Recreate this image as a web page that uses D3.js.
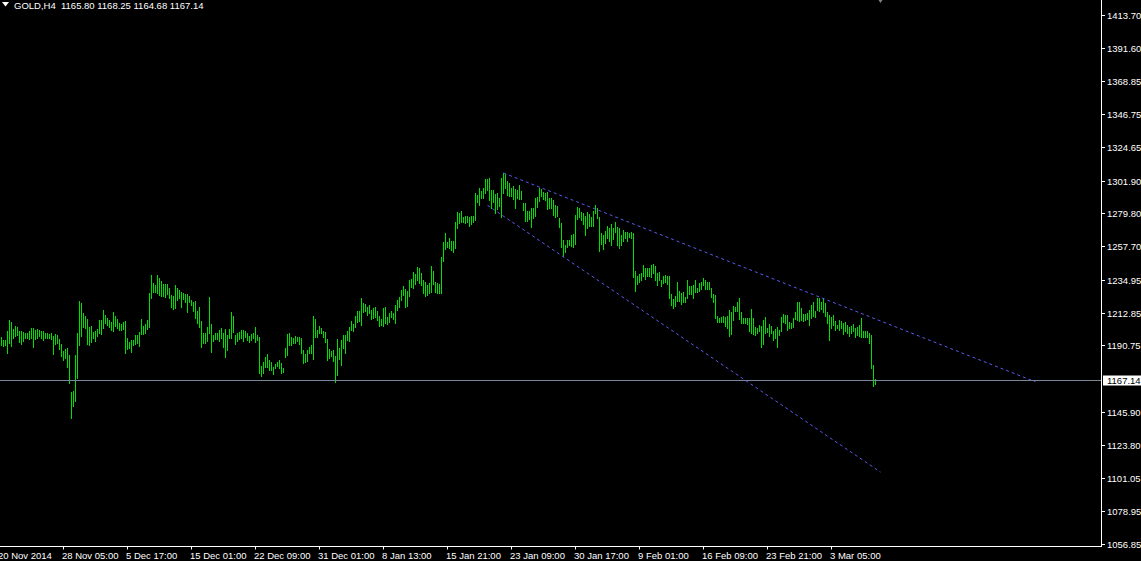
<!DOCTYPE html>
<html><head><meta charset="utf-8">
<script src="https://cdn.jsdelivr.net/npm/d3@7"></script>
<style>html,body{margin:0;padding:0;background:#000;overflow:hidden}svg{display:block}</style>
</head><body>
<script>
const symbolTitle = "GOLD,H4";
const lastOHLC = ["1165.80", "1168.25", "1164.68", "1167.14"];
const bidPrice = 1167.14;

const highs = [
1196.6,1194.4,1194.4,1200.5,1207.9,1206.8,1201.8,1203.8,1202.9,1200.5,
1200.5,1200.0,1199.3,1199.3,1200.5,1202.5,1202.3,1201.1,1201.6,1200.9,
1200.5,1200.2,1199.3,1198.9,1198.4,1198.9,1197.3,1198.4,1197.8,1195.1,
1191.7,1187.0,1188.3,1189.0,1184.3,1159.5,1160.0,1184.3,1198.9,1220.7,
1219.6,1212.6,1210.6,1208.8,1203.4,1204.1,1200.0,1200.7,1201.8,1207.9,
1207.9,1214.6,1211.3,1209.5,1207.9,1206.8,1213.3,1210.8,1208.3,1206.1,
1205.0,1206.3,1207.2,1196.0,1193.3,1194.6,1194.4,1197.8,1197.8,1200.0,
1208.6,1204.1,1205.4,1207.9,1226.3,1238.3,1232.6,1231.5,1238.3,1236.5,
1234.4,1232.2,1232.2,1232.0,1229.3,1224.8,1224.1,1231.5,1229.3,1228.1,
1227.0,1225.9,1225.4,1225.7,1224.1,1221.4,1220.3,1220.7,1214.0,1216.9,
1207.2,1199.1,1199.1,1203.2,1223.4,1205.2,1197.8,1198.9,1199.3,1201.1,
1202.2,1199.3,1201.8,1197.7,1201.8,1213.3,1210.6,1197.7,1199.3,1200.0,
1201.1,1201.1,1200.4,1198.9,1197.3,1198.4,1199.3,1202.9,1197.7,1196.6,
1176.8,1179.3,1183.1,1184.9,1180.9,1179.7,1176.4,1178.2,1179.7,1180.9,
1179.1,1175.7,1188.9,1198.4,1199.3,1196.2,1195.9,1197.1,1196.2,1196.6,
1195.9,1187.6,1184.9,1187.6,1189.9,1191.0,1210.6,1208.5,1201.1,1203.8,
1202.4,1200.6,1200.0,1195.0,1188.3,1187.2,1187.6,1183.5,1195.3,1189.2,
1194.4,1197.7,1197.7,1200.4,1203.4,1207.2,1205.1,1210.6,1213.9,1213.9,
1222.5,1219.5,1218.6,1216.4,1218.0,1214.6,1216.2,1216.4,1213.9,1210.6,
1208.3,1215.7,1216.4,1209.7,1212.8,1214.2,1212.4,1218.0,1221.4,1223.2,
1228.1,1231.0,1228.5,1227.6,1234.9,1235.3,1240.0,1238.9,1243.4,1242.7,
1239.4,1234.9,1233.7,1231.5,1232.6,1244.3,1240.9,1233.7,1232.6,1232.2,
1250.2,1260.3,1266.4,1260.8,1263.5,1261.2,1261.2,1273.8,1281.0,1279.9,
1281.5,1277.6,1278.3,1278.1,1277.6,1278.3,1278.1,1293.4,1292.3,1296.8,
1295.0,1296.8,1302.8,1302.8,1304.0,1295.6,1295.6,1292.7,1293.4,1290.0,
1303.5,1306.9,1306.2,1301.7,1300.1,1297.2,1298.6,1296.3,1295.6,1299.0,
1295.0,1287.1,1286.6,1281.7,1281.7,1283.3,1283.7,1290.5,1291.1,1297.2,
1296.3,1294.0,1293.4,1294.0,1290.0,1290.5,1288.9,1285.5,1285.1,1276.5,
1273.1,1261.9,1258.5,1261.9,1261.9,1265.3,1265.7,1278.8,1283.9,1283.3,
1281.0,1280.3,1278.1,1281.0,1279.4,1277.6,1281.7,1285.5,1283.3,1277.6,
1266.4,1265.3,1268.0,1271.3,1269.8,1272.5,1270.2,1274.3,1270.9,1269.8,
1265.3,1268.4,1267.5,1267.5,1266.8,1267.5,1266.4,1241.0,1237.8,1238.7,
1239.4,1245.0,1242.8,1243.2,1242.8,1245.0,1245.5,1244.3,1239.8,1240.1,
1234.9,1237.6,1238.3,1237.9,1237.6,1225.3,1221.9,1224.1,1233.8,1227.5,
1225.9,1226.6,1223.7,1234.9,1230.9,1230.9,1231.6,1234.9,1229.8,1232.7,
1233.8,1236.1,1234.9,1233.4,1233.8,1229.8,1225.5,1224.8,1210.6,1209.5,
1210.2,1210.6,1210.2,1210.8,1214.7,1213.6,1217.4,1216.9,1220.3,1222.6,
1213.1,1209.1,1209.5,1209.1,1209.5,1215.4,1209.5,1203.4,1202.7,1204.6,
1203.9,1207.9,1210.2,1202.7,1205.0,1203.9,1200.5,1201.9,1203.4,1201.2,
1210.2,1211.7,1211.3,1211.3,1206.4,1205.7,1209.5,1213.1,1220.3,1220.3,
1215.8,1211.7,1211.7,1212.4,1214.7,1218.1,1220.3,1214.0,1223.0,1222.6,
1220.3,1223.0,1219.6,1213.1,1211.3,1210.2,1211.3,1207.5,1204.6,1207.9,
1207.5,1205.7,1206.8,1204.6,1203.4,1204.1,1205.2,1202.3,1203.0,1204.6,
1209.5,1200.5,1200.5,1200.5,1199.4,1197.8,1177.6,1168.25
];
const lows = [
1191.0,1190.3,1191.0,1185.8,1192.1,1190.3,1195.5,1197.1,1197.8,1192.8,
1191.7,1193.7,1195.5,1195.5,1195.1,1195.5,1189.9,1195.1,1196.0,1197.3,
1195.5,1194.4,1195.5,1195.7,1195.7,1195.1,1185.2,1191.7,1192.6,1188.1,
1183.8,1180.9,1182.5,1176.4,1165.1,1141.9,1150.1,1153.4,1168.5,1191.0,
1197.3,1203.4,1202.3,1191.7,1191.0,1192.8,1195.5,1193.9,1197.3,1198.9,
1198.2,1202.3,1205.6,1204.5,1202.9,1201.1,1200.7,1203.8,1202.3,1201.4,
1201.1,1201.6,1185.8,1188.3,1189.2,1186.5,1191.0,1191.5,1192.1,1190.6,
1198.2,1198.2,1198.9,1201.6,1203.4,1223.0,1227.0,1227.0,1225.9,1224.8,
1224.3,1224.3,1223.6,1225.4,1222.5,1216.9,1215.1,1216.2,1221.2,1222.5,
1216.9,1221.8,1219.8,1213.5,1219.8,1218.0,1214.0,1209.0,1205.6,1202.9,
1189.9,1192.1,1192.1,1193.7,1198.9,1186.5,1193.7,1194.8,1194.8,1193.9,
1195.5,1189.4,1183.1,1187.6,1195.9,1195.9,1200.0,1191.7,1193.9,1194.8,
1195.5,1193.7,1196.6,1194.4,1193.2,1194.4,1195.9,1193.2,1194.4,1171.9,
1170.3,1172.3,1176.4,1176.4,1174.5,1174.1,1171.4,1175.7,1177.0,1175.7,
1172.3,1173.0,1183.1,1184.2,1191.0,1191.0,1192.1,1192.1,1193.7,1191.4,
1185.8,1178.6,1179.5,1180.4,1185.4,1185.4,1181.5,1196.6,1196.6,1198.9,
1199.3,1196.2,1193.2,1181.1,1182.4,1183.5,1180.4,1166.2,1170.7,1181.5,
1177.5,1188.7,1185.8,1194.4,1193.9,1201.1,1200.4,1203.4,1206.7,1207.2,
1204.5,1213.5,1213.9,1211.2,1212.4,1208.3,1209.0,1210.1,1207.9,1204.0,
1204.5,1203.8,1206.1,1205.1,1206.7,1209.7,1208.3,1206.1,1214.6,1216.9,
1221.4,1224.7,1216.9,1217.3,1224.1,1230.4,1229.7,1232.2,1234.9,1232.6,
1231.5,1225.9,1224.3,1224.7,1225.9,1226.5,1231.9,1226.5,1225.9,1225.9,
1225.9,1247.7,1255.8,1257.4,1256.3,1255.1,1254.0,1256.3,1269.8,1273.1,
1274.3,1273.8,1273.1,1274.3,1271.3,1272.5,1273.8,1275.4,1287.8,1285.5,
1290.0,1290.0,1293.8,1295.6,1288.9,1283.3,1287.8,1280.3,1282.8,1285.1,
1277.6,1293.4,1297.2,1292.3,1291.8,1291.8,1289.3,1283.7,1290.0,1289.3,
1289.3,1282.1,1274.7,1274.9,1276.1,1270.9,1276.5,1278.1,1284.4,1288.2,
1291.6,1289.3,1288.9,1282.6,1283.7,1283.3,1278.8,1277.6,1278.3,1270.4,
1257.4,1251.3,1253.6,1256.9,1258.5,1258.1,1257.4,1259.2,1275.8,1277.6,
1275.4,1272.5,1265.3,1269.8,1271.3,1271.6,1271.6,1279.9,1276.9,1254.5,
1258.9,1255.8,1260.1,1263.5,1261.2,1258.5,1262.6,1267.5,1258.5,1256.3,
1258.5,1261.2,1263.5,1261.2,1264.1,1263.0,1237.1,1227.5,1232.0,1233.8,
1234.9,1237.6,1235.3,1237.6,1237.6,1237.1,1239.4,1234.9,1231.5,1234.9,
1231.1,1232.7,1233.8,1232.2,1223.0,1218.1,1216.2,1217.4,1221.0,1221.0,
1218.7,1220.3,1220.3,1223.0,1225.3,1225.3,1222.6,1226.6,1226.6,1227.5,
1228.6,1231.6,1228.9,1228.9,1228.6,1223.7,1220.3,1209.5,1206.8,1206.8,
1206.8,1206.8,1203.9,1202.3,1197.1,1198.2,1207.9,1214.0,1214.0,1208.4,
1206.1,1205.7,1205.7,1205.0,1200.5,1199.4,1198.2,1197.8,1199.4,1200.5,
1189.9,1191.5,1199.4,1200.0,1197.4,1199.4,1194.4,1196.0,1189.9,1197.8,
1200.5,1206.4,1205.7,1201.2,1202.3,1202.7,1203.4,1208.4,1207.9,1207.5,
1207.9,1207.2,1207.9,1208.4,1204.6,1209.1,1210.9,1209.7,1214.7,1214.0,
1215.4,1213.6,1210.6,1206.1,1194.4,1202.7,1204.6,1201.2,1202.3,1201.2,
1202.3,1198.2,1200.5,1198.9,1197.4,1198.9,1200.5,1196.7,1197.8,1197.4,
1196.7,1196.7,1196.7,1196.7,1192.2,1175.3,1163.6,1164.68
];

const priceTicks = [1413.70,1391.60,1368.85,1346.75,1324.65,1301.90,1279.80,1257.70,1234.95,1212.85,1190.75,1145.90,1123.80,1101.05,1078.95,1056.85];
const priceTickLabels = ["1413.70","1391.60","1368.85","1346.75","1324.65","1301.90","1279.80","1257.70","1234.95","1212.85","1190.75","1145.90","1123.80","1101.05","1078.95","1056.85"];

const timeTickBars = [-1,31,63,95,127,159,191,223,255,287,319,351,383,415];
const timeTickLabels = ["20 Nov 2014","28 Nov 05:00","5 Dec 17:00","15 Dec 01:00","22 Dec 09:00","31 Dec 01:00","8 Jan 13:00","15 Jan 21:00","23 Jan 09:00","30 Jan 17:00","9 Feb 01:00","16 Feb 09:00","23 Feb 21:00","3 Mar 05:00"];

// trend lines: [barIndex, price] endpoints
const upperTrend = [[251, 1307.1], [517, 1166.2]];
const lowerTrend = [[243, 1285.3], [439.5, 1105.3]];
// chart shift marker position (bar index)
const shiftMarkerBar = 439.5;

const W = 1141, H = 561;
const plotRight = 1101, plotBottom = 546.5;
const svg = d3.select("body").append("svg").attr("width", W).attr("height", H)
  .style("background", "#000");

const x = d3.scaleLinear().domain([0, 437]).range([1, 875]);
const y = d3.scaleLinear().domain([1056.85, 1413.70]).range([543.9, 15.0]);

const font = "'Liberation Sans', Arial, sans-serif";

// bars
const bars = svg.append("g").attr("shape-rendering", "crispEdges");
bars.selectAll("rect").data(d3.range(highs.length)).join("rect")
  .attr("x", i => Math.round(x(i)))
  .attr("width", 1)
  .attr("y", i => Math.round(y(highs[i])))
  .attr("height", i => Math.max(1, Math.round(y(lows[i])) - Math.round(y(highs[i])) + 1))
  .attr("fill", "#00e000");

// bid line
svg.append("line").attr("x1", 0).attr("x2", plotRight)
  .attr("y1", Math.round(y(bidPrice)) + 0.5).attr("y2", Math.round(y(bidPrice)) + 0.5)
  .attr("stroke", "#778899").attr("stroke-width", 1);

// trend lines
[upperTrend, lowerTrend].forEach(t => {
  svg.append("line")
    .attr("x1", x(t[0][0]) + 0.5).attr("y1", y(t[0][1]))
    .attr("x2", x(t[1][0]) + 0.5).attr("y2", y(t[1][1]))
    .attr("stroke", "#5a5af0").attr("stroke-width", 1)
    .attr("stroke-dasharray", "3,3");
});

// chart shift marker
const sx = Math.round(x(shiftMarkerBar)) + 0.5;
svg.append("path").attr("d", `M${sx - 2},0 L${sx + 2},0 L${sx},3 Z`).attr("fill", "#808080");

// axes frame
const axisColor = "#ffffff";
svg.append("line").attr("x1", plotRight + 0.5).attr("x2", plotRight + 0.5)
  .attr("y1", 0).attr("y2", plotBottom + 0.5).attr("stroke", axisColor);
svg.append("line").attr("x1", 0).attr("x2", plotRight + 1)
  .attr("y1", plotBottom).attr("y2", plotBottom).attr("stroke", axisColor);

// price ticks
const pt = svg.append("g");
priceTicks.forEach((v, i) => {
  const yy = Math.round(y(v)) + 0.5;
  pt.append("line").attr("x1", plotRight + 1).attr("x2", plotRight + 4)
    .attr("y1", yy).attr("y2", yy).attr("stroke", axisColor);
  pt.append("text").attr("x", plotRight + 6).attr("y", yy + 3.5)
    .attr("fill", "#fff").attr("font-family", font).attr("font-size", "9.5px")
    .text(priceTickLabels[i]);
});

// bid label
const by = Math.round(y(bidPrice)) + 0.5;
svg.append("rect").attr("x", plotRight + 2).attr("y", by - 5).attr("width", W - plotRight - 2).attr("height", 10)
  .attr("fill", "#ffffff");
svg.append("text").attr("x", plotRight + 6).attr("y", by + 3.5)
  .attr("fill", "#000").attr("font-family", font).attr("font-size", "9.5px")
  .text(bidPrice.toFixed(2));

// time ticks
const tt = svg.append("g");
timeTickBars.forEach((b, i) => {
  const xx = Math.round(x(b)) + 0.5;
  tt.append("line").attr("x1", xx).attr("x2", xx).attr("y1", plotBottom).attr("y2", plotBottom + 3)
    .attr("stroke", axisColor);
  tt.append("text").attr("x", xx - 1.5).attr("y", 559)
    .attr("fill", "#fff").attr("font-family", font).attr("font-size", "9.5px")
    .text(timeTickLabels[i]);
});

// header
svg.append("path").attr("d", "M2,2 L9,2 L5.5,6.5 Z").attr("fill", "#fff");
svg.append("text").attr("x", 14).attr("y", 8.5)
  .attr("fill", "#fff").attr("font-family", font).attr("font-size", "9.5px")
  .style("white-space", "pre")
  .text(symbolTitle + "  " + lastOHLC.join(" "));
</script>
</body></html>
